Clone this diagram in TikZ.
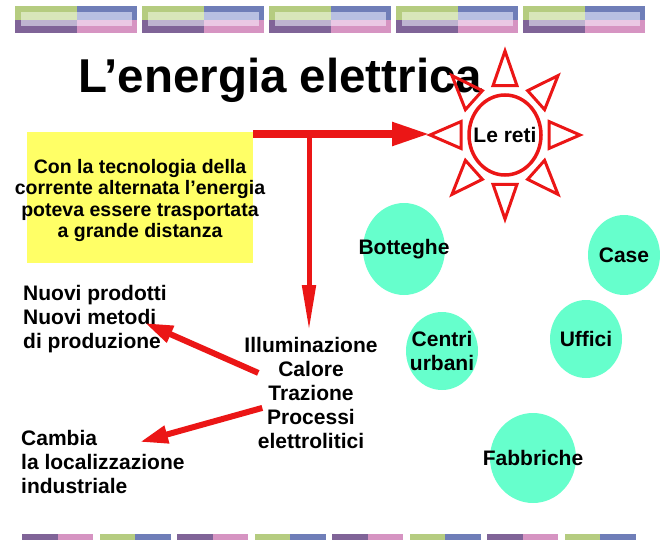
\documentclass[tikz,border=0pt]{standalone}
\usepackage{fontspec}
\setmainfont{Liberation Sans}
\usepackage{tikz}
\definecolor{rosso}{RGB}{235, 22, 22}
\definecolor{acqua}{RGB}{102, 255, 204}
\definecolor{giallo}{RGB}{255, 255, 102}
\definecolor{bverde}{RGB}{181, 204, 128}
\definecolor{bblu}{RGB}{111, 126, 184}
\definecolor{bviola}{RGB}{128, 100, 152}
\definecolor{brosa}{RGB}{214, 148, 194}
\definecolor{lverde}{RGB}{216, 230, 186}
\definecolor{lblu}{RGB}{184, 192, 226}
\definecolor{lviola}{RGB}{190, 180, 208}
\definecolor{lrosa}{RGB}{234, 200, 228}
\usetikzlibrary{shapes.geometric}
\usetikzlibrary{arrows.meta}

\begin{document}
\begin{tikzpicture}[x=1pt, y=-1pt,
testo/.style={font=\fontsize{21}{24}\selectfont\bfseries, inner sep=0pt},
bolla/.style={ellipse, fill=acqua, inner sep=0pt},
freccia/.style={rosso, line width=6pt, -{Triangle[length=28pt,width=17pt]}}]
\useasboundingbox (0,0) rectangle (660,540);
\foreach \i in {0,...,4} {
\fill[bverde] (15+127*\i,6) rectangle (77+127*\i,20);
\fill[bblu] (77+127*\i,6) rectangle (137+127*\i,20);
\fill[bviola] (15+127*\i,20) rectangle (77+127*\i,33);
\fill[brosa] (77+127*\i,20) rectangle (137+127*\i,33);
\fill[lverde] (21+127*\i,12) rectangle (77+127*\i,20);
\fill[lblu] (77+127*\i,12) rectangle (132+127*\i,20);
\fill[lviola] (21+127*\i,20) rectangle (77+127*\i,26);
\fill[lrosa] (77+127*\i,20) rectangle (132+127*\i,26);
}
\foreach \i/\ca/\cb in {0/bviola/brosa, 1/bverde/bblu, 2/bviola/brosa, 3/bverde/bblu, 4/bviola/brosa, 5/bverde/bblu, 6/bviola/brosa, 7/bverde/bblu} {
\fill[\ca] (22+77.5*\i,534) rectangle (57.5+77.5*\i,540);
\fill[\cb] (57.5+77.5*\i,534) rectangle (93+77.5*\i,540);
}
\node (titolo) [font=\fontsize{47.5}{57}\selectfont\bfseries, anchor=base west, inner sep=0pt] at (78,93) {L’energia elettrica};
\node (riquadro) [fill=giallo, minimum width=226pt, minimum height=131pt, anchor=north west, inner sep=0pt] at (27,132) {};
\node (tecno) [font=\fontsize{19.5}{21.5}\selectfont\bfseries, inner sep=0pt, align=center, anchor=north] at (140,159) {Con la tecnologia della\\corrente alternata l’energia\\poteva essere trasportata\\a grande distanza};
\node (nuovi) [testo, align=left, anchor=north west] at (23,285) {Nuovi prodotti\\Nuovi metodi\\di produzione};
\node (cambia) [testo, align=left, anchor=north west] at (21,430) {Cambia\\la localizzazione\\industriale};
\node (usi) [testo, align=center, anchor=north] at (311,337) {Illuminazione\\Calore\\Trazione\\Processi\\elettrolitici};
\node (bott) [bolla, minimum width=82pt, minimum height=92pt] at (404,249) {};
\node (case) [bolla, minimum width=72pt, minimum height=80pt] at (624,255) {};
\node (centri) [bolla, minimum width=72pt, minimum height=78pt] at (442,351) {};
\node (uffici) [bolla, minimum width=72pt, minimum height=78pt] at (586,339) {};
\node (fabb) [bolla, minimum width=86pt, minimum height=90pt] at (533,458) {};
\node (tbott) [testo] at (bott) {Botteghe};
\node (tcase) [testo] at (case) {Case};
\node (tcentri) [testo, align=center] at (centri) {Centri\\urbani};
\node (tuffici) [testo] at (uffici) {Uffici};
\node (tfabb) [testo] at (fabb) {Fabbriche};
\node (reti) [ellipse, draw=rosso, line width=3.5pt, minimum width=72pt, minimum height=80pt, inner sep=0pt] at (505,135) {};
\node (treti) [testo] at (reti) {Le reti};
\begin{scope}[shift={(reti.center)}, yscale=1.12]
\foreach \a in {0,45,...,315}
\draw[rosso, line width=3pt, rotate=\a] (44,-12) -- (75,0) -- (44,12) -- cycle;
\end{scope}
\coordinate (punta) at (430,134);
\coordinate (bivio) at (309,131);
\coordinate (giu) at (309,331);
\coordinate (metodi) at (145,323);
\coordinate (loc) at (140,442);
\draw[rosso, line width=8pt, -{Triangle[length=38pt,width=22pt]}] ([yshift=-2pt]riquadro.north east) -- (punta);
\draw[rosso, line width=5pt, -{Triangle[length=46pt,width=13pt]}] (bivio) -- (giu);
\draw[freccia] ([xshift=14pt,yshift=20pt]usi.west) -- (metodi);
\draw[freccia] ([xshift=18pt,yshift=-15pt]usi.west) -- (loc);
\end{tikzpicture}
\end{document}
